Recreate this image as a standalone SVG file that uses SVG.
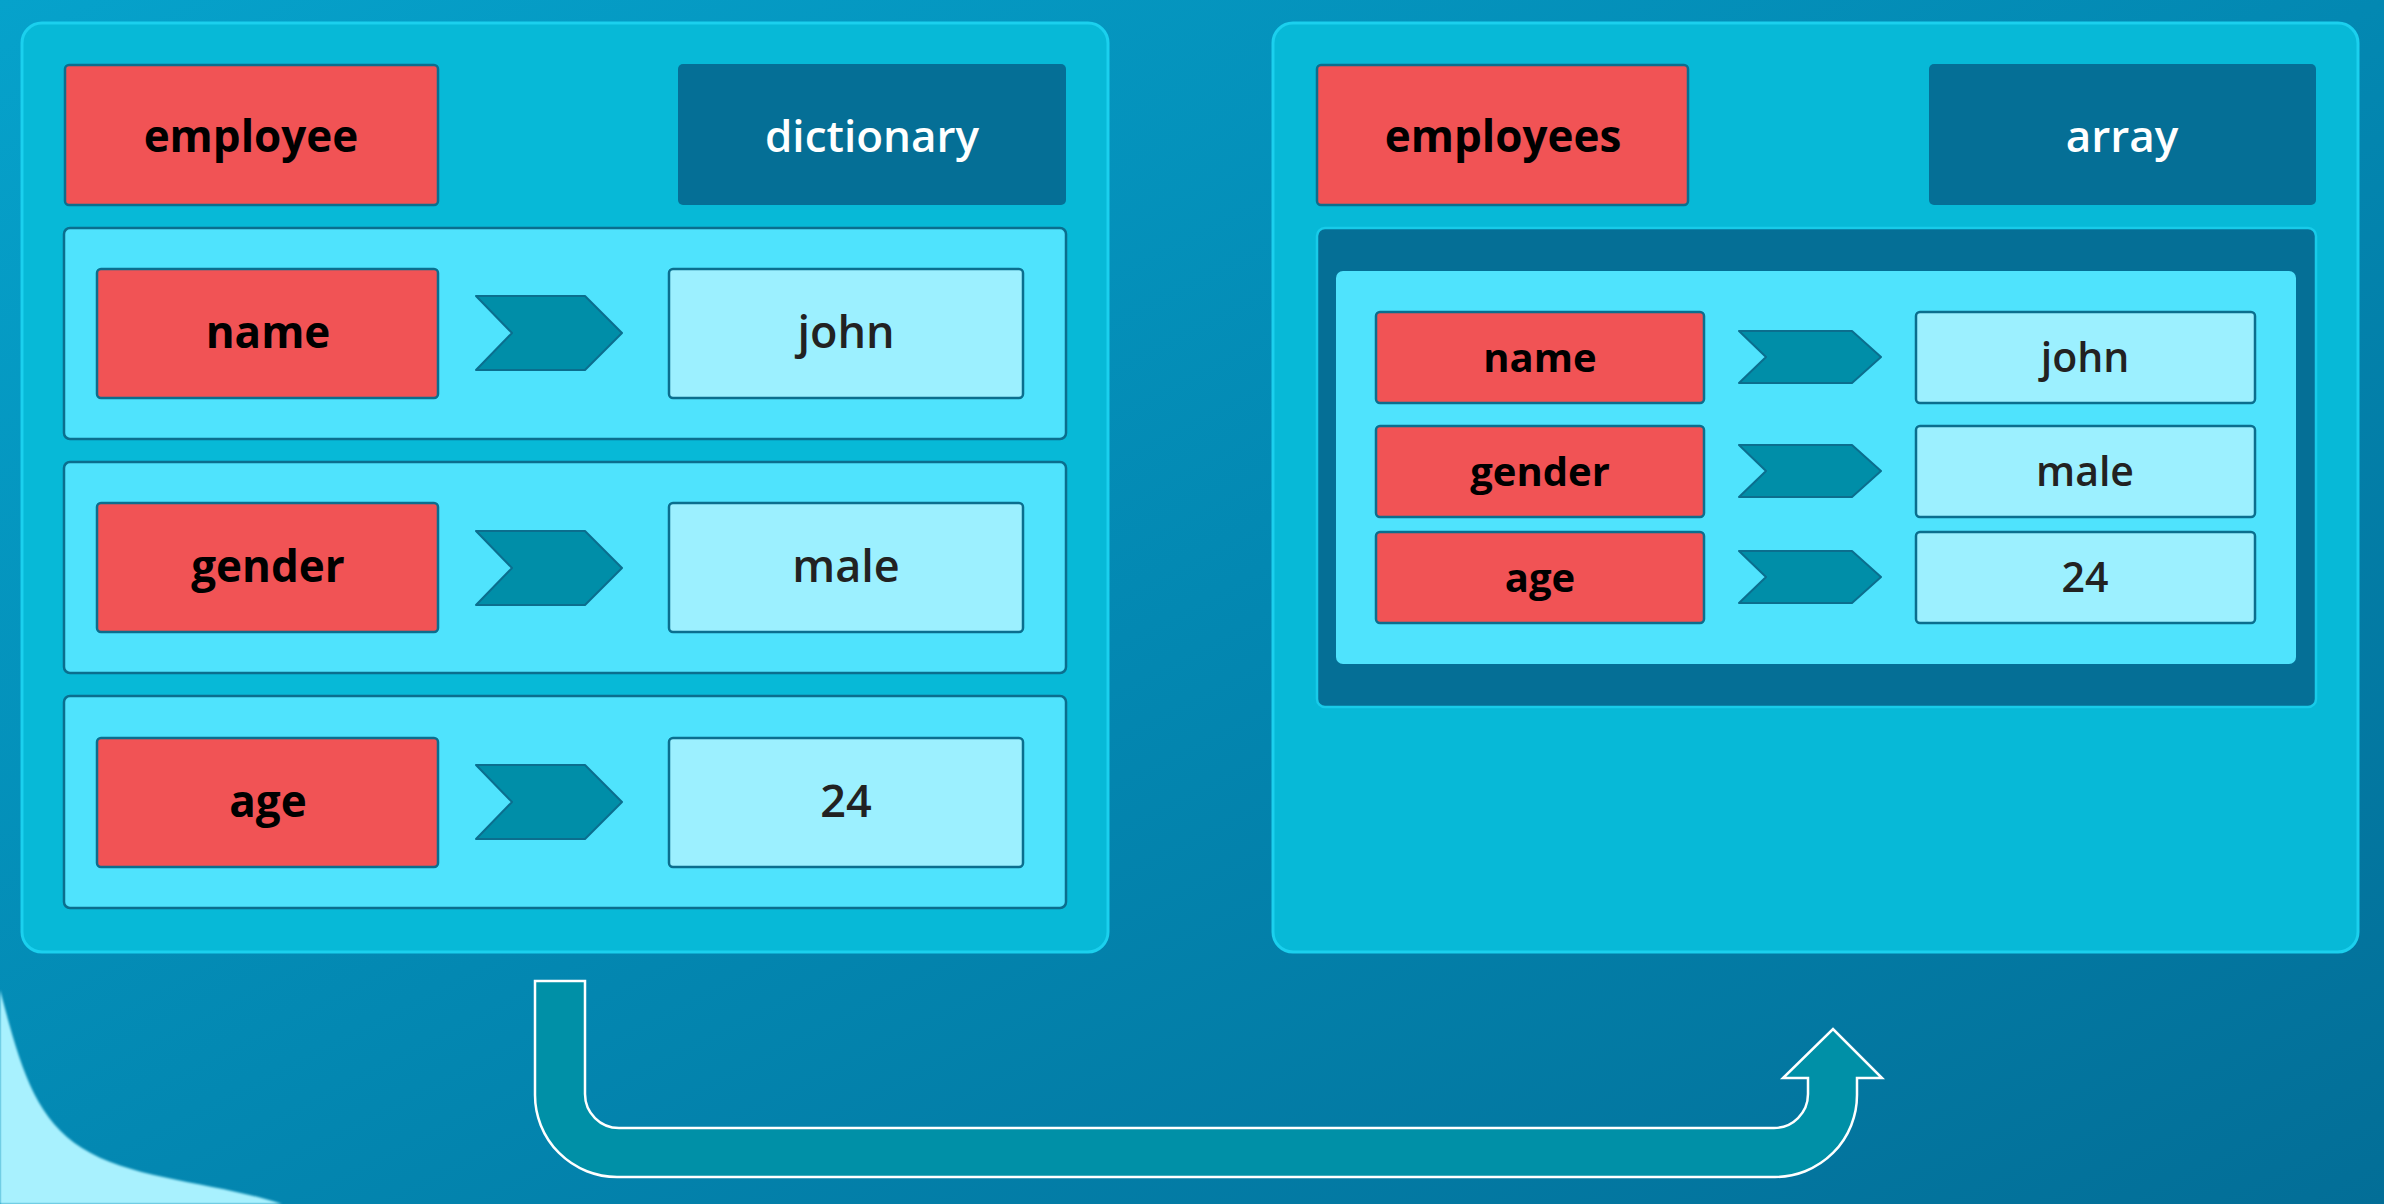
<svg xmlns="http://www.w3.org/2000/svg" width="2384" height="1204" viewBox="0 0 2384 1204">
  <defs>
    <linearGradient id="bg" x1="0" y1="0" x2="1" y2="1">
      <stop offset="0" stop-color="#06a2cb"/>
      <stop offset="0.5" stop-color="#0388b2"/>
      <stop offset="1" stop-color="#036e97"/>
    </linearGradient>
    <filter id="soft" x="-20%" y="-20%" width="140%" height="140%">
      <feGaussianBlur stdDeviation="1.2"/>
    </filter>
    <style>
      .panel { fill: #07b9d7; stroke: #1bd0ee; stroke-width: 3; }
      .row { fill: #4fe3fd; stroke: #0b6e8e; stroke-width: 2.5; }
      .key { fill: #f15355; stroke: #0b6e8e; stroke-width: 2.5; }
      .val { fill: #9cf0ff; stroke: #0b6e8e; stroke-width: 2.5; }
      .type { fill: #056f96; }
      .chev { fill: #008ea8; stroke: #0b6e8e; stroke-width: 2; stroke-linejoin: round; }
      .box { fill: #056f96; stroke: #18cbe9; stroke-width: 2.5; }
      .inner { fill: #4fe3fd; }
      text { font-family: "Open Sans", "Liberation Sans", sans-serif; text-anchor: middle; }
      .kt { font-size: 44px; font-weight: 700; fill: #000; }
      .vt { font-size: 45px; font-weight: 600; fill: #222; }
      .tt { font-size: 44px; font-weight: 600; fill: #fff; }
      .kts { font-size: 40px; font-weight: 700; fill: #000; }
      .vts { font-size: 41px; font-weight: 600; fill: #222; }
      .flow { fill: #0090a7; stroke: #ffffff; stroke-width: 2.5; stroke-linejoin: miter; }
    </style>
  </defs>

  <!-- backdrop -->
  <rect width="2384" height="1204" fill="url(#bg)"/>
  <path d="M0,990 C20,1065 34,1118 82,1148 C132,1180 215,1182 282,1204 L0,1204 Z" fill="#a8f1fe" filter="url(#soft)"/>

  <!-- dictionary panel -->
  <g id="dictionary-panel">
    <rect class="panel" x="22" y="23" width="1086" height="929" rx="20"/>
    <g id="employee">
      <rect class="key" x="65" y="65" width="373" height="140" rx="4"/>
      <text class="kt" x="251" y="152">employee</text>
    </g>
    <g id="dictionary">
      <rect class="type" x="678" y="64" width="388" height="141" rx="5"/>
      <text class="tt" x="872" y="152">dictionary</text>
    </g>
    <g id="entry-name">
      <rect class="row" x="64" y="228" width="1002" height="211" rx="6"/>
      <rect class="key" x="97" y="269" width="341" height="129" rx="4"/>
      <text class="kt" x="268" y="348">name</text>
      <path class="chev" d="M476,296 H585 L622,333 L585,370 H476 L512,333 Z"/>
      <rect class="val" x="669" y="269" width="354" height="129" rx="4"/>
      <text class="vt" x="846" y="348">john</text>
    </g>
    <g id="entry-gender">
      <rect class="row" x="64" y="462" width="1002" height="211" rx="6"/>
      <rect class="key" x="97" y="503" width="341" height="129" rx="4"/>
      <text class="kt" x="268" y="582">gender</text>
      <path class="chev" d="M476,531 H585 L622,568 L585,605 H476 L512,568 Z"/>
      <rect class="val" x="669" y="503" width="354" height="129" rx="4"/>
      <text class="vt" x="846" y="582">male</text>
    </g>
    <g id="entry-age">
      <rect class="row" x="64" y="696" width="1002" height="212" rx="6"/>
      <rect class="key" x="97" y="738" width="341" height="129" rx="4"/>
      <text class="kt" x="268" y="817">age</text>
      <path class="chev" d="M476,765 H585 L622,802 L585,839 H476 L512,802 Z"/>
      <rect class="val" x="669" y="738" width="354" height="129" rx="4"/>
      <text class="vt" x="846" y="817">24</text>
    </g>
  </g>

  <!-- array panel -->
  <g id="array-panel">
    <rect class="panel" x="1273" y="23" width="1085" height="929" rx="20"/>
    <g id="employees">
      <rect class="key" x="1317" y="65" width="371" height="140" rx="4"/>
      <text class="kt" x="1503" y="152">employees</text>
    </g>
    <g id="array">
      <rect class="type" x="1929" y="64" width="387" height="141" rx="5"/>
      <text class="tt" x="2122" y="152">array</text>
    </g>
    <g id="array-item">
      <rect class="box" x="1317" y="228" width="999" height="479" rx="8"/>
      <rect class="inner" x="1336" y="271" width="960" height="393" rx="7"/>
      <g id="item-name">
        <rect class="key" x="1376" y="312" width="328" height="91" rx="4"/>
        <text class="kts" x="1540" y="372">name</text>
        <path class="chev" d="M1739,331 H1852 L1881,357 L1852,383 H1739 L1766,357 Z"/>
        <rect class="val" x="1916" y="312" width="339" height="91" rx="4"/>
        <text class="vts" x="2085" y="372">john</text>
      </g>
      <g id="item-gender">
        <rect class="key" x="1376" y="426" width="328" height="91" rx="4"/>
        <text class="kts" x="1540" y="486">gender</text>
        <path class="chev" d="M1739,445 H1852 L1881,471 L1852,497 H1739 L1766,471 Z"/>
        <rect class="val" x="1916" y="426" width="339" height="91" rx="4"/>
        <text class="vts" x="2085" y="486">male</text>
      </g>
      <g id="item-age">
        <rect class="key" x="1376" y="532" width="328" height="91" rx="4"/>
        <text class="kts" x="1540" y="592">age</text>
        <path class="chev" d="M1739,551 H1852 L1881,577 L1852,603 H1739 L1766,577 Z"/>
        <rect class="val" x="1916" y="532" width="339" height="91" rx="4"/>
        <text class="vts" x="2085" y="592">24</text>
      </g>
    </g>
  </g>

  <!-- connectors -->
  <g id="connectors">
    <path class="flow" d="M535,981 H585 V1094 A34,34 0 0 0 619,1128 H1774 A34,34 0 0 0 1808,1094 V1078 H1783 L1833,1029 L1882,1078 H1857 V1095 A82,82 0 0 1 1775,1177 H617 A82,82 0 0 1 535,1095 Z"/>
  </g>
</svg>
